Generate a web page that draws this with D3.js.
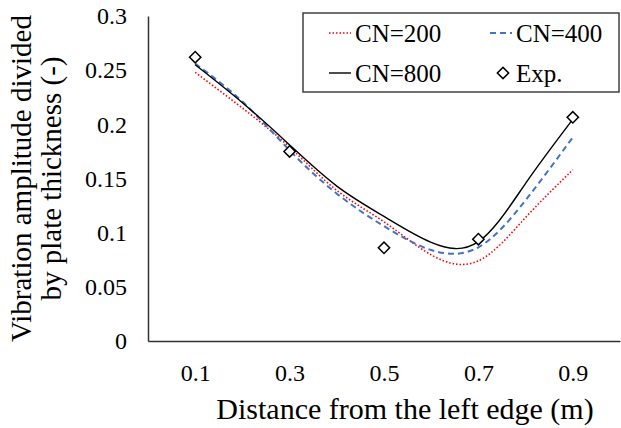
<!DOCTYPE html>
<html>
<head>
<meta charset="utf-8">
<script src="https://cdn.jsdelivr.net/npm/d3@7"></script>
<style>
  body { margin: 0; background: #fff; }
  text { font-family: "Liberation Serif", "Times New Roman", serif; fill: #000; }
</style>
</head>
<body>
<svg id="chart"></svg>
<script>
// values
const xValues = [0.1, 0.2, 0.3, 0.4, 0.5, 0.6, 0.7, 0.8, 0.9];
const cn200 = [0.248, 0.215, 0.179, 0.139, 0.110, 0.0795, 0.074, 0.114, 0.158];
const cn400 = [0.256, 0.221, 0.176, 0.136, 0.106, 0.084, 0.0865, 0.130, 0.188];
const cn800 = [0.255, 0.220, 0.181, 0.143, 0.115, 0.091, 0.0917, 0.1455, 0.2046];
const expX = [0.1, 0.3, 0.5, 0.7, 0.9];
const expY = [0.262, 0.175, 0.086, 0.094, 0.2065];
const xTicks = [0.1, 0.3, 0.5, 0.7, 0.9];
const yTicks = [0, 0.05, 0.1, 0.15, 0.2, 0.25, 0.3];

const width = 621;
const height = 428;
const margin = { top: 16, right: 1, bottom: 87, left: 148 };
const serif = "'Liberation Serif', 'Times New Roman', serif";

const svg = d3.select("#chart")
  .attr("width", width)
  .attr("height", height)
  .style("background-color", "#fff");

const x = d3.scaleLinear()
  .domain([0, 1])
  .range([margin.left, width - margin.right]);

const y = d3.scaleLinear()
  .domain([0, 0.3])
  .range([height - margin.bottom, margin.top]);

// y axis
const yAxis = svg.append("g")
  .attr("transform", `translate(${margin.left},0)`)
  .call(d3.axisLeft(y).tickValues(yTicks).tickSize(0).tickPadding(21)
    .tickFormat(d => String(+d.toFixed(2))))
  .attr("font-family", serif)
  .attr("font-size", 24);
yAxis.select(".domain").attr("stroke", "#333").attr("stroke-width", 1.5);

// x axis
const xAxis = svg.append("g")
  .attr("transform", `translate(0,${height - margin.bottom})`)
  .call(d3.axisBottom(x).tickValues(xTicks).tickSize(0).tickPadding(23)
    .tickFormat(d3.format(".1f")))
  .attr("font-family", serif)
  .attr("font-size", 24);
xAxis.select(".domain").attr("stroke", "#333").attr("stroke-width", 1.5);

// axis titles
svg.append("text")
  .attr("x", 405)
  .attr("y", 419)
  .attr("text-anchor", "middle")
  .style("font-size", "30px")
  .text("Distance from the left edge (m)");

const yTitle = svg.append("text")
  .attr("transform", `translate(31,${(margin.top + height - margin.bottom) / 2}) rotate(-90)`)
  .attr("text-anchor", "middle")
  .style("font-size", "29px");
yTitle.append("tspan").attr("x", 0).attr("dy", 0).text("Vibration amplitude divided");
yTitle.append("tspan").attr("x", 0).attr("dy", 30).text("by plate thickness (-)");

// curves
const line = d3.line()
  .x((d, i) => x(xValues[i]))
  .y(d => y(d))
  .curve(d3.curveNatural);

const series = [
  { name: "CN=200", values: cn200, color: "#ff0000", width: 1.6, dash: "1.5,2" },
  { name: "CN=400", values: cn400, color: "#4472c4", width: 2, dash: "6,4" },
  { name: "CN=800", values: cn800, color: "#000", width: 1.4, dash: null }
];

series.forEach(s => {
  svg.append("path")
    .datum(s.values)
    .attr("fill", "none")
    .attr("stroke", s.color)
    .attr("stroke-width", s.width)
    .attr("stroke-dasharray", s.dash)
    .attr("d", line);
});

// experiment markers
const diamond = d3.symbol().type(d3.symbolSquare).size(64);
svg.selectAll("path.exp")
  .data(expY)
  .enter()
  .append("path")
  .attr("class", "exp")
  .attr("d", diamond)
  .attr("transform", (d, i) => `translate(${x(expX[i])},${y(d)}) rotate(45)`)
  .attr("fill", "#fff")
  .attr("stroke", "#000")
  .attr("stroke-width", 1.5);

// legend
const legend = svg.append("g");
legend.append("rect")
  .attr("x", 303).attr("y", 13)
  .attr("width", 316).attr("height", 79)
  .attr("fill", "#fff")
  .attr("stroke", "#404040")
  .attr("stroke-width", 1.5);

const legendItems = [
  { label: "CN=200", s: series[0], lx: 329, ty: 33 },
  { label: "CN=400", s: series[1], lx: 490, ty: 33 },
  { label: "CN=800", s: series[2], lx: 329, ty: 73 },
  { label: "Exp.", s: null, lx: 490, ty: 73 }
];

legendItems.forEach(item => {
  if (item.s) {
    legend.append("line")
      .attr("x1", item.lx).attr("x2", item.lx + 22)
      .attr("y1", item.ty).attr("y2", item.ty)
      .attr("stroke", item.s.color)
      .attr("stroke-width", item.s.width)
      .attr("stroke-dasharray", item.s.dash);
  } else {
    legend.append("path")
      .attr("d", diamond)
      .attr("transform", `translate(${item.lx + 13},${item.ty}) rotate(45)`)
      .attr("fill", "#fff")
      .attr("stroke", "#000")
      .attr("stroke-width", 1.5);
  }
  legend.append("text")
    .attr("x", item.lx + 26)
    .attr("y", item.ty)
    .attr("dy", "0.35em")
    .style("font-size", "25px")
    .text(item.label);
});
</script>
</body>
</html>
